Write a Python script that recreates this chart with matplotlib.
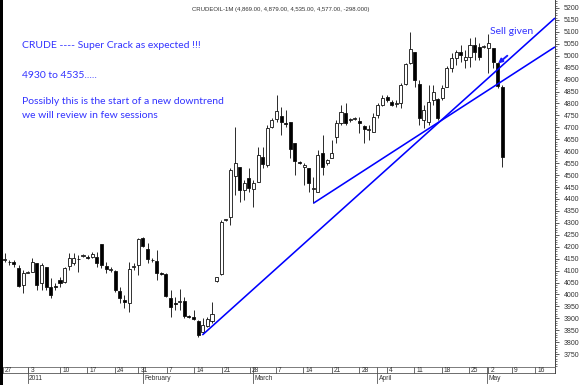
import matplotlib
matplotlib.use("Agg")
import matplotlib.pyplot as plt
from matplotlib.patches import Rectangle
from matplotlib.transforms import blended_transform_factory
import numpy as np

# ---------------- data (daily candles, trading-day index) ----------------
opens = [4146, 4134, 4137, 4111, 4038, 4091, 4095, 4130, 4049, 4114,
         4032, 4035, 4060, 4053, 4119, 4130, 4147, 4162, 4158, 4155,
         4158, 4210, 4120, 4103, 4099, 4015, 3976, 3963, 4117, 4123,
         4235, 4189, 4146, 4140, 4090, 4085, 3984, 3964, 3970, 3974,
         3908, 3907, 3890, 3844, 3868, 3890, 4055, 4085, 4310, 4326,
         4496, 4535, 4437, 4486, 4440, 4472, 4577, 4542, 4703, 4734,
         4747, 4718, 4724, 4633, 4553, 4533, 4528, 4442, 4430, 4594,
         4549, 4570, 4661, 4717, 4761, 4729, 4736, 4728, 4706, 4688,
         4682, 4752, 4794, 4828, 4805, 4796, 4801, 4880, 4968, 5017,
         4880, 4731, 4724, 4815, 4819, 4822, 4870, 4947, 4989, 5017,
         4982, 4996, 5045, 5038, 5037, 5034, 5031, 4968, 4869]
highs = [4173, 4144, 4144, 4123, 4102, 4099, 4151, 4133, 4130, 4116,
         4069, 4048, 4074, 4116, 4172, 4172, 4165, 4169, 4165, 4179,
         4179, 4210, 4137, 4116, 4102, 4032, 3997, 4137, 4132, 4235,
         4240, 4214, 4152, 4186, 4094, 4090, 4018, 3990, 4021, 3990,
         3914, 3935, 3893, 3900, 3907, 3969, 4074, 4312, 4316, 4530,
         4703, 4535, 4479, 4528, 4479, 4619, 4619, 4710, 4739, 4835,
         4786, 4773, 4724, 4633, 4559, 4549, 4528, 4493, 4605, 4668,
         4567, 4647, 4731, 4794, 4801, 4739, 4743, 4745, 4710, 4710,
         4759, 4801, 4835, 4835, 4815, 4815, 4884, 4970, 5098, 5017,
         4898, 4794, 4877, 4877, 4822, 4877, 4957, 5010, 5024, 5045,
         5024, 5073, 5080, 5052, 5045, 5090, 5031, 4974, 4879]
lows = [4136, 4123, 4116, 4031, 4007, 4088, 4093, 4018, 4018, 4018,
        3984, 4018, 4032, 4046, 4102, 4123, 4095, 4158, 4148, 4151,
        4116, 4109, 4088, 4095, 4011, 3965, 3943, 3927, 4102, 4081,
        4199, 4130, 4136, 4060, 4081, 3990, 3907, 3935, 3935, 3900,
        3900, 3893, 3823, 3837, 3865, 3879, 4053, 4081, 4308, 4291,
        4416, 4388, 4396, 4430, 4367, 4472, 4528, 4535, 4697, 4724,
        4668, 4703, 4570, 4500, 4546, 4458, 4430, 4385, 4430, 4500,
        4544, 4570, 4633, 4710, 4710, 4724, 4731, 4675, 4633, 4647,
        4682, 4739, 4789, 4807, 4789, 4786, 4780, 4877, 4965, 4870,
        4710, 4697, 4710, 4794, 4731, 4815, 4869, 4933, 4961, 4975,
        4947, 4954, 4982, 4982, 5032, 4926, 4950, 4865, 4535]
closes = [4150, 4137, 4126, 4035, 4091, 4094, 4137, 4039, 4123, 4030,
          3997, 4033, 4049, 4109, 4151, 4151, 4149, 4165, 4151, 4168,
          4130, 4123, 4105, 4106, 4018, 3984, 3968, 4105, 4119, 4231,
          4203, 4147, 4143, 4091, 4087, 3993, 3946, 3960, 3974, 3910,
          3906, 3897, 3830, 3872, 3896, 3917, 4072, 4305, 4314, 4521,
          4549, 4437, 4465, 4445, 4465, 4584, 4545, 4696, 4731, 4770,
          4724, 4715, 4608, 4560, 4551, 4542, 4465, 4446, 4584, 4533,
          4563, 4594, 4717, 4765, 4719, 4733, 4739, 4717, 4694, 4691,
          4742, 4794, 4824, 4815, 4794, 4800, 4877, 4964, 5028, 4898,
          4740, 4773, 4805, 4849, 4740, 4864, 4950, 4992, 5017, 5003,
          4996, 5045, 5017, 4996, 5040, 5052, 4975, 4875, 4577]

# week labels (Mondays) and their positions on the trading-day axis
week_labels = ["27", "3", "10", "17", "24", "31", "7", "14", "21", "28",
               "7", "14", "21", "28", "4", "11", "18", "25", "2", "9", "16"]
week_pos = [-0.43, 5.12, 12.0, 17.93, 23.94, 29.0, 35.16, 41.15, 47.1, 53.25,
            58.89, 64.81, 70.98, 76.97, 82.92, 88.84, 94.86, 100.78, 104.97,
            110.05, 115.11]
month_labels = ["2011", "February", "March", "April", "May"]
month_pos = [4.99, 29.95, 53.83, 80.88, 104.63]

# trend lines (start/end on trading-day axis, price)
trend_x = [[42.9, 119.45], [67.0, 119.45]]
trend_y = [[3830, 5158], [4382, 5037]]

title = "CRUDEOIL-1M (4,869.00, 4,879.00, 4,535.00, 4,577.00, -298.000)"
notes = ["CRUDE ---- Super Crack as expected !!!",
         "4930 to 4535.....",
         "Possibly this is the start of a new downtrend",
         "we will review in few sessions"]

# ---------------- figure ----------------
W, H = 582, 385
fig = plt.figure(figsize=(W / 100, H / 100), dpi=100)
fig.patch.set_facecolor("white")
ax = fig.add_axes([3 / W, 18 / H, 552 / W, 367 / H])
ax.set_xlim(-0.369, 119.45)
ax.set_ylim(3696, 5233.5)

n = len(opens)
xs = np.arange(n)
for i in range(n):
    o, h, l, c = opens[i], highs[i], lows[i], closes[i]
    ax.vlines(xs[i], l, h, color="#1a1a1a", lw=0.65, zorder=2)
    bottom = min(o, c)
    height = max(abs(c - o), 3)
    face = "white" if c >= o else "black"
    ax.bar(xs[i], height, width=0.66, bottom=bottom, facecolor=face,
           edgecolor="#111111", lw=0.6, zorder=3)

for tx, ty in zip(trend_x, trend_y):
    ax.plot(tx, ty, color="#0000ff", lw=1.15, zorder=4, clip_on=False,
            solid_capstyle="butt")

# y axis on the right
for s in ["top", "left"]:
    ax.spines[s].set_visible(False)
ax.spines["right"].set_color("#444444")
ax.spines["right"].set_linewidth(0.7)
ax.spines["bottom"].set_color("#666666")
ax.spines["bottom"].set_linewidth(0.6)
ax.yaxis.tick_right()
ax.set_yticks(np.arange(3750, 5201, 50))
ax.set_yticks(np.arange(3700, 5231, 10), minor=True)
ax.set_yticklabels([str(v) for v in range(3750, 5201, 50)])
ax.tick_params(axis="y", which="major", length=3.2, width=0.6, color="#444444",
               pad=3, labelsize=5, labelcolor="#333333")
ax.tick_params(axis="y", which="minor", length=1.6, width=0.5, color="#444444")
for lab in ax.get_yticklabels():
    lab.set_family(["Liberation Sans", "DejaVu Sans"])
ax.set_xticks([])

# date strip below the plot
trans = blended_transform_factory(ax.transData, ax.transAxes)
px = 1 / 367
row1 = -6 * px
row2 = -16 * px
ax.plot([0, 1], [row1, row1], transform=ax.transAxes, color="#555555",
        lw=0.6, clip_on=False)
ax.plot([1, 1], [0, row1], transform=ax.transAxes, color="#444444",
        lw=0.7, clip_on=False)
for lab, p in zip(week_labels, week_pos):
    ax.plot([p, p], [0, row1], transform=trans, color="#555555", lw=0.6,
            clip_on=False)
    ax.text(p + 0.45, -3 * px, lab, transform=trans, fontsize=4.8,
            family=["Liberation Sans", "DejaVu Sans"], color="#333333",
            ha="left", va="center", clip_on=False)
for lab, p in zip(month_labels, month_pos):
    ax.plot([p, p], [0, row2], transform=trans, color="#555555", lw=0.6,
            clip_on=False)
    ax.text(p + 0.3, -12 * px, lab, transform=trans, fontsize=4.8,
            family=["Liberation Sans", "DejaVu Sans"], color="#333333",
            ha="left", va="center", clip_on=False)

# annotations
blue = "#3333ff"
note_y = [46, 75, 101, 116]
for t, yy in zip(notes, note_y):
    ax.text((22 - 3) / 552, 1 - yy / 367, t, transform=ax.transAxes,
            fontsize=7.5, family=["Lato", "DejaVu Sans"], color=blue,
            ha="left", va="center")
ax.text((490 - 3) / 552, 1 - 32 / 367, "Sell given", transform=ax.transAxes,
        fontsize=7.5, family=["Lato", "DejaVu Sans"], color=blue,
        ha="left", va="center")
ax.annotate("", xy=(107.1, 4968), xytext=(109.1, 5000),
            arrowprops=dict(arrowstyle="-|>", color="#1a1aff", lw=1.4,
                            mutation_scale=6, shrinkA=0, shrinkB=0))

fig.text(280.5 / W, 1 - 9 / H, title, fontsize=4.3,
         family=["Liberation Sans", "DejaVu Sans"], color="#333333",
         ha="center", va="center")

# black strip at the left edge of the screenshot
fig.patches.append(Rectangle((0, 0), 2.7 / W, 1, transform=fig.transFigure,
                             facecolor="black", edgecolor="none"))

fig.savefig("out.png", dpi=100)
